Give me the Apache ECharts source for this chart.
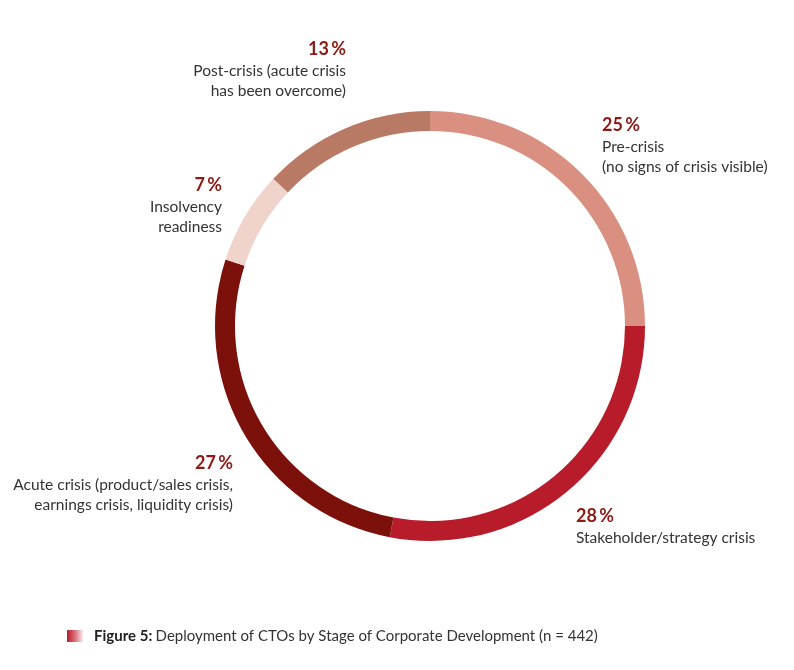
<!DOCTYPE html>
<html>
<head>
<meta charset="utf-8">
<script src="https://cdn.jsdelivr.net/npm/echarts@6/dist/echarts.min.js"></script>
<style>
html,body{margin:0;padding:0;background:#fff;}
#chart{width:794px;height:670px;}
</style>
</head>
<body>
<div id="chart"></div>
<script>
// ---- data ----
var categories = [
  'Pre-crisis\n(no signs of crisis visible)',
  'Stakeholder/strategy crisis',
  'Acute crisis (product/sales crisis,\nearnings crisis, liquidity crisis)',
  'Insolvency\nreadiness',
  'Post-crisis (acute crisis\nhas been overcome)'
];
var values = [25, 28, 27, 7, 13];
var colors = ['#D99081', '#B81B29', '#7C110B', '#F0D4CC', '#B97A65'];
var caption = ['Figure 5:', 'Deployment of CTOs by Stage of Corporate Development (n = 442)'];

// ---- label layout (positions, not data) ----
var labelPos = [
  {x: 602, y: 113, align: 'left'},
  {x: 576, y: 504, align: 'left'},
  {x: 233, y: 451, align: 'right'},
  {x: 222, y: 173, align: 'right'},
  {x: 346, y: 37,  align: 'right'}
];

var FONT = 'Lato';
var chart = echarts.init(document.getElementById('chart'), null, {renderer: 'canvas'});

var pieData = categories.map(function (c, i) {
  return {
    name: c,
    value: values[i],
    itemStyle: {color: colors[i]},
    label: {align: labelPos[i].align}
  };
});

chart.setOption({
  animation: false,
  backgroundColor: '#fff',
  series: [{
    type: 'pie',
    center: [430, 326],
    radius: [195, 215],
    startAngle: 90,
    clockwise: true,
    avoidLabelOverlap: false,
    silent: true,
    itemStyle: {borderWidth: 0},
    labelLine: {show: false},
    label: {
      show: true,
      position: 'outside',
      formatter: function (p) {
        var lines = p.name.split('\n').map(function (l) { return '{t|' + l + '}'; });
        return '{p|' + p.value + '\u2009%}\n' + lines.join('\n');
      },
      rich: {
        p: {fontFamily: FONT, fontWeight: 'bold', fontSize: 18, color: '#8C1B16', lineHeight: 24},
        t: {fontFamily: FONT, fontSize: 15.5, color: '#333333', lineHeight: 20}
      }
    },
    labelLayout: function (params) {
      var pos = labelPos[params.dataIndex];
      return {x: pos.x, y: pos.y, align: pos.align, verticalAlign: 'top'};
    },
    data: pieData
  }],
  graphic: [
    {
      type: 'rect',
      shape: {x: 67, y: 630, width: 16, height: 12},
      style: {
        fill: new echarts.graphic.LinearGradient(0, 0, 1, 0, [
          {offset: 0, color: '#B81B29'},
          {offset: 0.5, color: '#D9707A'},
          {offset: 1, color: '#FBE9EA'}
        ])
      }
    },
    {
      type: 'text',
      x: 94,
      y: 636,
      style: {
        text: '{b|' + caption[0] + '} {r|' + caption[1] + '}',
        verticalAlign: 'middle',
        rich: {
          b: {fontFamily: FONT, fontWeight: 'bold', fontSize: 15, fill: '#222'},
          r: {fontFamily: FONT, fontSize: 15, fill: '#333'}
        }
      }
    }
  ]
});
</script>
</body>
</html>
